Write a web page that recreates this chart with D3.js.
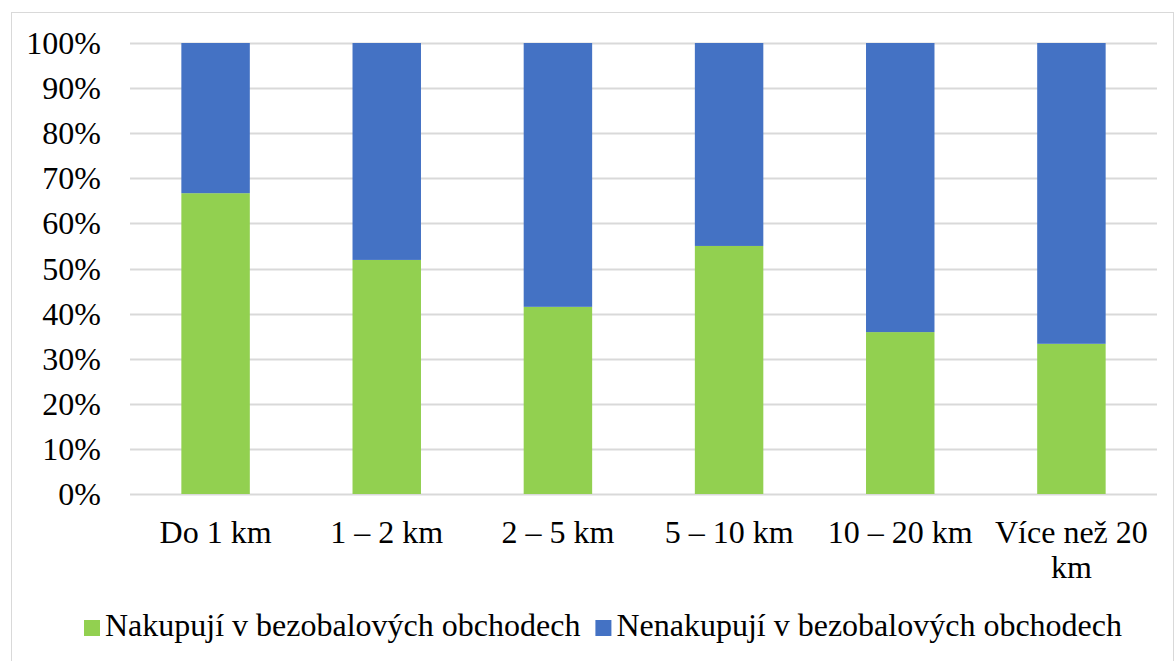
<!DOCTYPE html>
<html>
<head>
<meta charset="utf-8">
<script src="https://cdn.jsdelivr.net/npm/d3@7"></script>
<style>
  body { margin: 0; background: #fff; }
</style>
</head>
<body>
<div id="chart"></div>
<script>
const categories = ["Do 1 km", "1 – 2 km", "2 – 5 km", "5 – 10 km", "10 – 20 km", "Více než 20 km"];
const nakupuji = [66.7, 51.9, 41.5, 55.0, 35.9, 33.3];
const nenakupuji = nakupuji.map(v => 100 - v);
const seriesNames = ["Nakupují v bezobalových obchodech", "Nenakupují v bezobalových obchodech"];
const yTicks = [0, 10, 20, 30, 40, 50, 60, 70, 80, 90, 100];

const colors = ["#92d050", "#4472c4"];
const width = 1174, height = 661;
const margin = { top: 43, right: 17, bottom: 167, left: 130 };
const fontSize = 32;
const serif = "'Liberation Serif', 'Times New Roman', serif";

const svg = d3.select("#chart").append("svg")
  .attr("width", width)
  .attr("height", height)
  .attr("font-family", serif);

// chart frame
svg.append("rect")
  .attr("x", 11.5).attr("y", 12.5)
  .attr("width", width - 12).attr("height", height)
  .attr("fill", "#fff")
  .attr("stroke", "#d9d9d9");

const x = d3.scaleBand()
  .domain(categories)
  .range([margin.left, width - margin.right])
  .paddingInner(0.6)
  .paddingOuter(0.3);

const y = d3.scaleLinear()
  .domain([0, 100])
  .range([height - margin.bottom, margin.top]);

// gridlines
svg.append("g")
  .selectAll("line")
  .data(yTicks)
  .join("line")
  .attr("x1", margin.left)
  .attr("x2", width - margin.right)
  .attr("y1", d => Math.round(y(d)) + 0.5)
  .attr("y2", d => Math.round(y(d)) + 0.5)
  .attr("stroke", "#d9d9d9")
  .attr("stroke-width", 2);

// y axis labels
const yAxis = svg.append("g")
  .attr("transform", `translate(${margin.left - 29},0)`)
  .call(d3.axisLeft(y).tickValues(yTicks).tickFormat(d => d + "%").tickSize(0).tickPadding(0));
yAxis.attr("font-family", serif).attr("font-size", fontSize);
yAxis.select(".domain").remove();
yAxis.selectAll("text")
  .attr("fill", "#000")
  .attr("dy", "0.33em");

// stacked bars
const stackData = categories.map((c, i) => ({ cat: c, a: nakupuji[i], b: nenakupuji[i] }));
const stack = d3.stack().keys(["a", "b"])(stackData);

svg.append("g")
  .selectAll("g")
  .data(stack)
  .join("g")
  .attr("fill", (d, i) => colors[i])
  .selectAll("rect")
  .data(d => d)
  .join("rect")
  .attr("x", d => x(d.data.cat))
  .attr("width", x.bandwidth())
  .attr("y", d => y(d[1]))
  .attr("height", d => y(d[0]) - y(d[1]));

// x labels (wrap long ones)
const xLabels = svg.append("g")
  .attr("font-size", fontSize);
categories.forEach(c => {
  const cx = x(c) + x.bandwidth() / 2;
  const lines = c === "Více než 20 km" ? ["Více než 20", "km"] : [c];
  const t = xLabels.append("text")
    .attr("text-anchor", "middle");
  lines.forEach((l, j) => {
    t.append("tspan")
      .attr("x", cx)
      .attr("y", 543 + j * 35)
      .text(l);
  });
});

// legend
const legend = svg.append("g")
  .attr("transform", "translate(84,636)")
  .attr("font-size", fontSize);
let lx = 0;
seriesNames.forEach((name, i) => {
  legend.append("rect")
    .attr("x", lx).attr("y", -16)
    .attr("width", 16).attr("height", 16)
    .attr("fill", colors[i]);
  const t = legend.append("text")
    .attr("x", lx + 21)
    .attr("y", 0)
    .text(name);
  lx += 21 + t.node().getComputedTextLength() + 15;
});
</script>
</body>
</html>
